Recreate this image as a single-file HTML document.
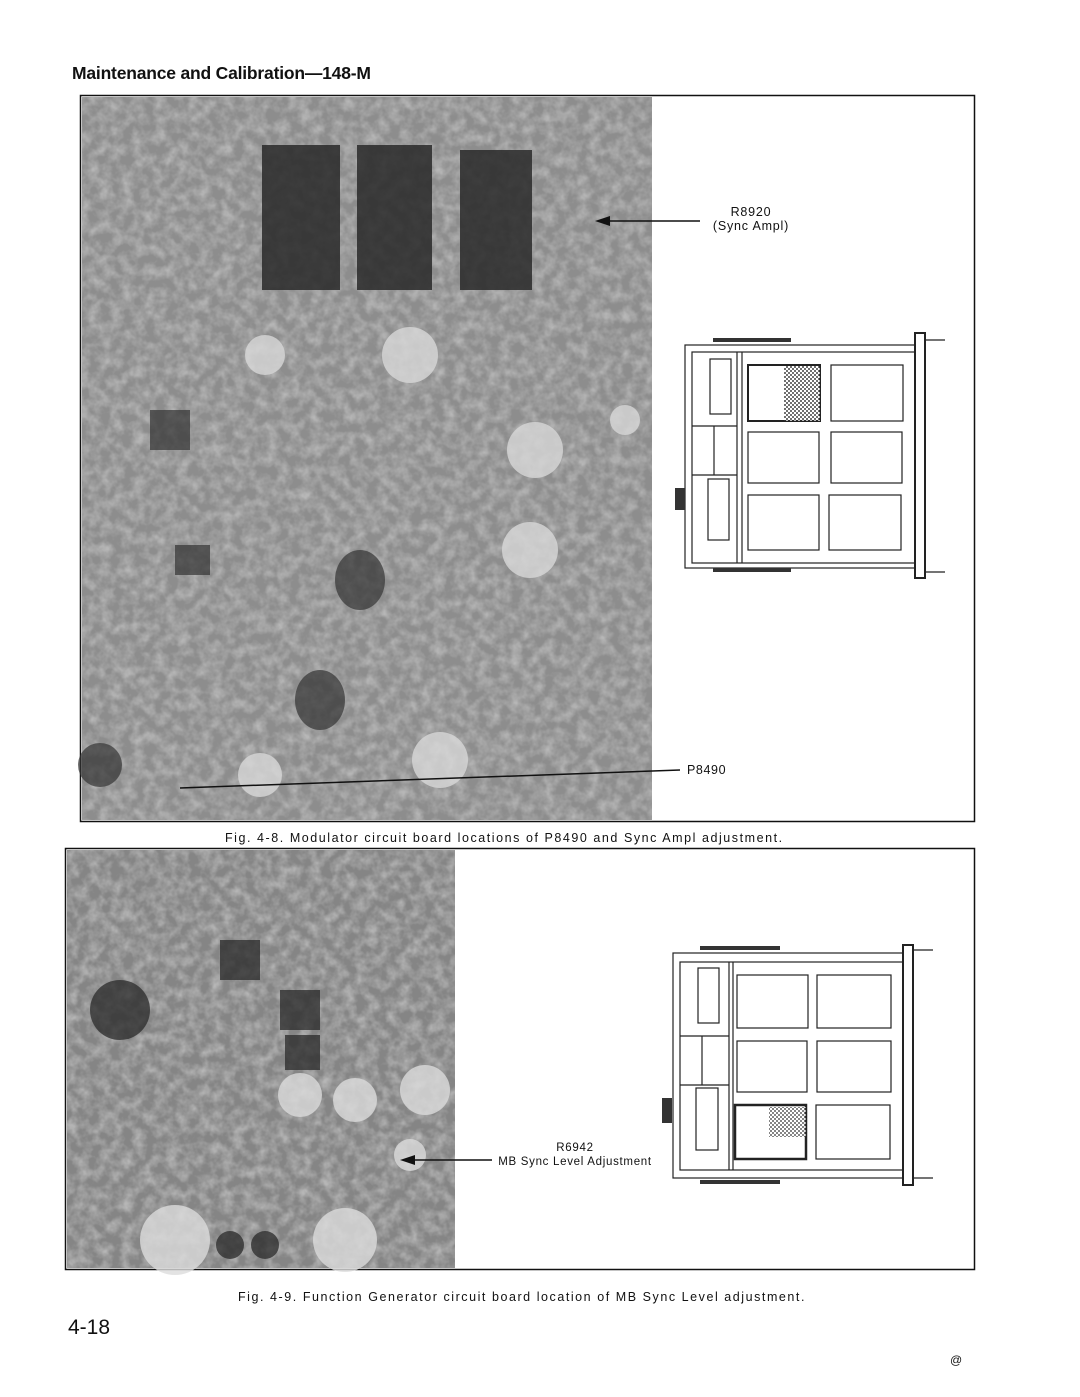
<!DOCTYPE html>
<html><head><style>
body{margin:0;background:#fff;}
.t{position:absolute;font-family:"Liberation Sans",sans-serif;color:#111;white-space:nowrap;}
</style></head><body>
<div style="position:relative;width:1080px;height:1397px;overflow:hidden;background:#fff">
<svg width="1080" height="1397" style="position:absolute;left:0;top:0">
<defs>
<filter id="n" x="0" y="0" width="100%" height="100%">
<feTurbulence type="fractalNoise" baseFrequency="0.09" numOctaves="3" seed="3"/>
<feColorMatrix type="matrix" values="0 0 0 0 0.5  0 0 0 0 0.5  0 0 0 0 0.5  0 0 0 1.8 -0.6"/>
</filter>
<pattern id="chk" width="4" height="4" patternUnits="userSpaceOnUse"><rect width="4" height="4" fill="#fff"/><rect width="2" height="2" fill="#333"/><rect x="2" y="2" width="2" height="2" fill="#333"/></pattern>
</defs>
<rect x="80.5" y="95.5" width="894" height="726" fill="none" stroke="#111" stroke-width="1.5"/>
<rect x="82" y="97" width="570" height="723" fill="#8d8d8d"/>
<rect x="82" y="97" width="570" height="723" filter="url(#n)" opacity="0.9"/>
<g fill="#2a2a2a" opacity="0.85">
<rect x="262" y="145" width="78" height="145"/><rect x="357" y="145" width="75" height="145"/><rect x="460" y="150" width="72" height="140"/>
</g>
<g fill="#d8d8d8" opacity="0.8">
<circle cx="410" cy="355" r="28"/><circle cx="535" cy="450" r="28"/><circle cx="530" cy="550" r="28"/><circle cx="440" cy="760" r="28"/><circle cx="260" cy="775" r="22"/><circle cx="265" cy="355" r="20"/><circle cx="625" cy="420" r="15"/>
</g>
<g fill="#333" opacity="0.7">
<circle cx="100" cy="765" r="22"/><ellipse cx="360" cy="580" rx="25" ry="30"/><ellipse cx="320" cy="700" rx="25" ry="30"/><rect x="150" y="410" width="40" height="40"/><rect x="175" y="545" width="35" height="30"/>
</g>
<line x1="600" y1="221" x2="700" y2="221" stroke="#111" stroke-width="1.5"/>
<polygon points="595,221 610,216 610,226" fill="#111"/>
<line x1="180" y1="788" x2="680" y2="770" stroke="#111" stroke-width="1.5"/>
<g fill="none" stroke="#222" stroke-width="1.2">
<rect x="685" y="345" width="230" height="223"/>
<rect x="692" y="352" width="223" height="211"/>
<rect x="915" y="333" width="10" height="245" fill="#fff" stroke-width="2"/>
<line x1="925" y1="340" x2="945" y2="340"/><line x1="925" y1="572" x2="945" y2="572"/>
<line x1="737" y1="352" x2="737" y2="563"/><line x1="742" y1="352" x2="742" y2="563"/>
<rect x="710" y="359" width="21" height="55"/><rect x="708" y="479" width="21" height="61"/>
<line x1="692" y1="426" x2="737" y2="426"/><line x1="692" y1="475" x2="737" y2="475"/><line x1="714" y1="426" x2="714" y2="475"/>
<rect x="748" y="365" width="72" height="56" stroke-width="2"/><rect x="831" y="365" width="72" height="56"/>
<rect x="748" y="432" width="71" height="51"/><rect x="831" y="432" width="71" height="51"/>
<rect x="748" y="495" width="71" height="55"/><rect x="829" y="495" width="72" height="55"/>
</g>
<rect x="784" y="366" width="36" height="55" fill="url(#chk)" opacity="0.7"/>
<rect x="713" y="338" width="78" height="4" fill="#333"/><rect x="713" y="568" width="78" height="4" fill="#333"/>
<rect x="675" y="488" width="10" height="22" fill="#333"/>
<rect x="65.5" y="848.5" width="909" height="421" fill="none" stroke="#111" stroke-width="1.5"/>
<rect x="67" y="850" width="388" height="418" fill="#858585"/>
<rect x="67" y="850" width="388" height="418" filter="url(#n)" opacity="0.9"/>
<g fill="#2a2a2a" opacity="0.75">
<circle cx="120" cy="1010" r="30"/><rect x="220" y="940" width="40" height="40"/><rect x="280" y="990" width="40" height="40"/><rect x="285" y="1035" width="35" height="35"/><circle cx="230" cy="1245" r="14"/><circle cx="265" cy="1245" r="14"/>
</g>
<g fill="#dcdcdc" opacity="0.8">
<circle cx="300" cy="1095" r="22"/><circle cx="355" cy="1100" r="22"/><circle cx="425" cy="1090" r="25"/><circle cx="175" cy="1240" r="35"/><circle cx="345" cy="1240" r="32"/><circle cx="410" cy="1155" r="16"/>
</g>
<line x1="405" y1="1160" x2="492" y2="1160" stroke="#111" stroke-width="1.5"/>
<polygon points="400,1160 415,1155 415,1165" fill="#111"/>
<g fill="none" stroke="#222" stroke-width="1.2">
<rect x="673" y="953" width="230" height="225"/>
<rect x="680" y="962" width="223" height="208"/>
<rect x="903" y="945" width="10" height="240" fill="#fff" stroke-width="2"/>
<line x1="913" y1="950" x2="933" y2="950"/><line x1="913" y1="1178" x2="933" y2="1178"/>
<line x1="729" y1="962" x2="729" y2="1170"/><line x1="733" y1="962" x2="733" y2="1170"/>
<rect x="698" y="968" width="21" height="55"/><rect x="696" y="1088" width="22" height="62"/>
<line x1="680" y1="1036" x2="729" y2="1036"/><line x1="680" y1="1085" x2="729" y2="1085"/><line x1="702" y1="1036" x2="702" y2="1085"/>
<rect x="737" y="975" width="71" height="53"/><rect x="817" y="975" width="74" height="53"/>
<rect x="737" y="1041" width="70" height="51"/><rect x="817" y="1041" width="74" height="51"/>
<rect x="735" y="1105" width="71" height="54" stroke-width="2.5"/><rect x="816" y="1105" width="74" height="54"/>
</g>
<rect x="769" y="1107" width="37" height="30" fill="url(#chk)" opacity="0.6"/>
<rect x="700" y="946" width="80" height="4" fill="#333"/><rect x="700" y="1180" width="80" height="4" fill="#333"/>
<rect x="662" y="1098" width="10" height="25" fill="#333"/>
</svg>
<div class="t" style="left:72px;top:63px;font-size:17.5px;font-weight:bold;letter-spacing:-0.2px">Maintenance and Calibration—148-M</div>
<div class="t" style="left:706px;top:205px;width:90px;font-size:12.5px;letter-spacing:0.8px;line-height:14px;text-align:center">R8920<br>(Sync Ampl)</div>
<div class="t" style="left:687px;top:763px;font-size:12.5px;letter-spacing:0.6px">P8490</div>
<div class="t" style="left:225px;top:831px;font-size:12.5px;letter-spacing:1.55px">Fig. 4-8. Modulator circuit board locations of P8490 and Sync Ampl adjustment.</div>
<div class="t" style="left:496px;top:1141px;width:158px;font-size:11.5px;letter-spacing:0.7px;line-height:14px;text-align:center">R6942<br>MB Sync Level Adjustment</div>
<div class="t" style="left:238px;top:1290px;font-size:12.5px;letter-spacing:1.55px">Fig. 4-9. Function Generator circuit board location of MB Sync Level adjustment.</div>
<div class="t" style="left:68px;top:1316px;font-size:21px">4-18</div>
<div class="t" style="left:950px;top:1353px;font-size:12px">@</div>
</div>
</body></html>
